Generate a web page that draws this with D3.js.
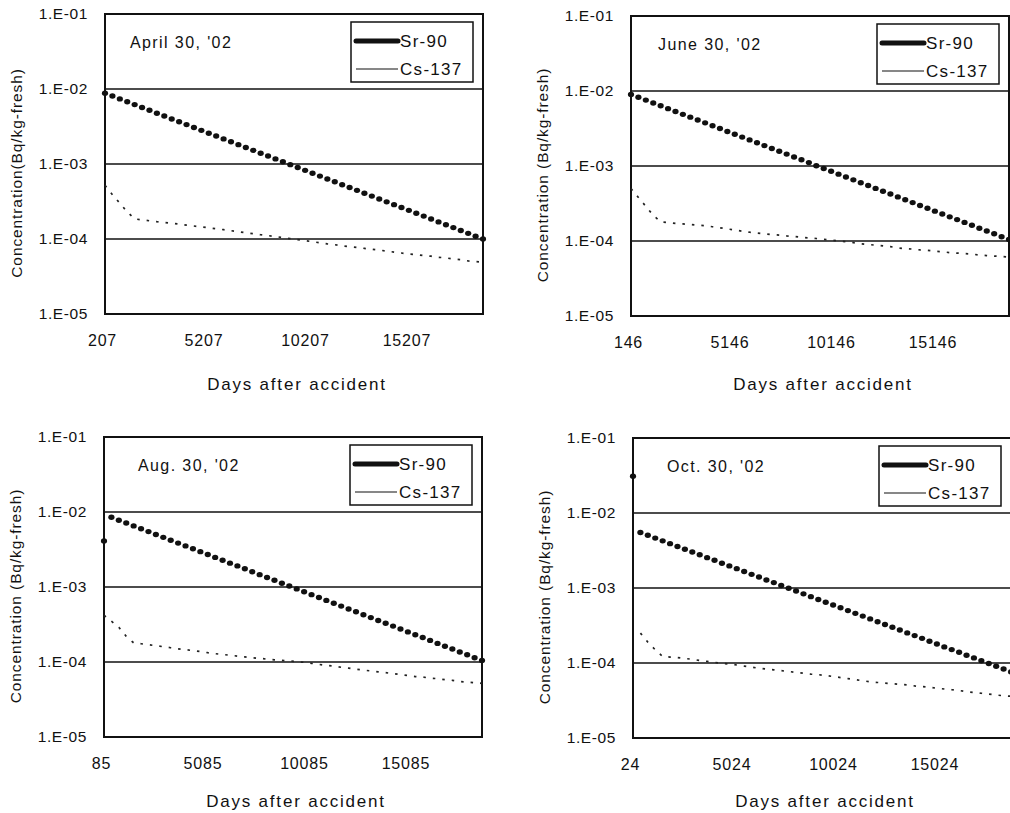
<!DOCTYPE html>
<html>
<head>
<meta charset="utf-8">
<script src="https://cdn.jsdelivr.net/npm/d3@7"></script>
<style>
  body { margin: 0; background: #fff; }
  svg text { font-family: "Liberation Sans", Arial, sans-serif; fill: #111; }
</style>
</head>
<body>
<svg id="chart" width="1010" height="813"></svg>
<script>
const panelWidth = 378,
panelHeight = 300,
dayStep = 365.25;

// dates of the four panels
const panelTitles = ["April 30, '02", "June 30, '02", "Aug. 30, '02", "Oct. 30, '02"]
const yTitles = ["Concentration(Bq/kg-fresh)", "Concentration (Bq/kg-fresh)", "Concentration (Bq/kg-fresh)", "Concentration (Bq/kg-fresh)"]
const xTitle = "Days after accident"
const seriesNames = ["Sr-90", "Cs-137"]

// tick labels
const yTickValues = [1e-5, 1e-4, 1e-3, 1e-2, 1e-1]
const yTickLabels = ["1.E-05", "1.E-04", "1.E-03", "1.E-02", "1.E-01"]
const xTickLabels = [
  ["207", "5207", "10207", "15207"],
  ["146", "5146", "10146", "15146"],
  ["85", "5085", "10085", "15085"],
  ["24", "5024", "10024", "15024"]
]

// Bq/kg-fresh, one value per year after first day
const srApril = [8.8e-3, 8.06e-3, 7.38e-3, 6.76e-3, 6.19e-3, 5.67e-3, 5.2e-3, 4.76e-3, 4.36e-3, 3.99e-3,
  3.66e-3, 3.35e-3, 3.07e-3, 2.81e-3, 2.57e-3, 2.36e-3, 2.16e-3, 1.98e-3, 1.81e-3, 1.66e-3,
  1.52e-3, 1.39e-3, 1.28e-3, 1.17e-3, 1.07e-3, 9.8e-4, 8.98e-4, 8.23e-4, 7.54e-4, 6.9e-4,
  6.32e-4, 5.79e-4, 5.3e-4, 4.86e-4, 4.45e-4, 4.08e-4, 3.73e-4, 3.42e-4, 3.13e-4, 2.87e-4,
  2.63e-4, 2.41e-4, 2.2e-4, 2.02e-4, 1.85e-4, 1.69e-4, 1.55e-4, 1.42e-4, 1.3e-4, 1.19e-4,
  1.09e-4, 1.0e-4]
const csApril = [5.2e-4, 3.9e-4, 3.0e-4, 2.3e-4, 1.85e-4, 1.8e-4, 1.75e-4, 1.7e-4, 1.66e-4, 1.62e-4,
  1.58e-4, 1.53e-4, 1.49e-4, 1.45e-4, 1.41e-4, 1.37e-4, 1.33e-4, 1.29e-4, 1.25e-4, 1.21e-4,
  1.18e-4, 1.14e-4, 1.11e-4, 1.08e-4, 1.04e-4, 1.01e-4, 9.8e-5, 9.5e-5, 9.2e-5, 8.9e-5,
  8.6e-5, 8.4e-5, 8.1e-5, 7.9e-5, 7.7e-5, 7.5e-5, 7.3e-5, 7.1e-5, 6.9e-5, 6.7e-5,
  6.5e-5, 6.3e-5, 6.2e-5, 6.0e-5, 5.9e-5, 5.7e-5, 5.6e-5, 5.4e-5, 5.3e-5, 5.1e-5,
  5.0e-5, 4.9e-5]

const srJune = [9.0e-3, 8.25e-3, 7.56e-3, 6.93e-3, 6.35e-3, 5.82e-3, 5.33e-3, 4.88e-3, 4.48e-3, 4.1e-3,
  3.76e-3, 3.44e-3, 3.16e-3, 2.89e-3, 2.65e-3, 2.43e-3, 2.23e-3, 2.04e-3, 1.87e-3, 1.71e-3,
  1.57e-3, 1.44e-3, 1.32e-3, 1.21e-3, 1.11e-3, 1.01e-3, 9.27e-4, 8.5e-4, 7.79e-4, 7.14e-4,
  6.54e-4, 5.99e-4, 5.49e-4, 5.03e-4, 4.61e-4, 4.23e-4, 3.87e-4, 3.55e-4, 3.25e-4, 2.98e-4,
  2.73e-4, 2.5e-4, 2.29e-4, 2.1e-4, 1.93e-4, 1.77e-4, 1.62e-4, 1.48e-4, 1.36e-4, 1.25e-4,
  1.14e-4, 1.05e-4]
const csJune = [5.0e-4, 3.8e-4, 2.9e-4, 2.2e-4, 1.8e-4, 1.76e-4, 1.72e-4, 1.69e-4, 1.66e-4, 1.63e-4,
  1.6e-4, 1.55e-4, 1.5e-4, 1.45e-4, 1.4e-4, 1.35e-4, 1.31e-4, 1.28e-4, 1.25e-4, 1.22e-4,
  1.2e-4, 1.17e-4, 1.15e-4, 1.12e-4, 1.1e-4, 1.08e-4, 1.05e-4, 1.03e-4, 1.0e-4, 9.8e-5,
  9.5e-5, 9.2e-5, 9.0e-5, 8.8e-5, 8.6e-5, 8.4e-5, 8.1e-5, 7.9e-5, 7.8e-5, 7.6e-5,
  7.5e-5, 7.3e-5, 7.2e-5, 7.0e-5, 6.9e-5, 6.8e-5, 6.7e-5, 6.5e-5, 6.4e-5, 6.3e-5,
  6.2e-5, 6.1e-5]

const srAug = [4.1e-3, 8.5e-3, 7.78e-3, 7.13e-3, 6.53e-3, 5.98e-3, 5.48e-3, 5.02e-3, 4.59e-3, 4.21e-3,
  3.85e-3, 3.53e-3, 3.23e-3, 2.96e-3, 2.71e-3, 2.48e-3, 2.27e-3, 2.08e-3, 1.91e-3, 1.75e-3,
  1.6e-3, 1.46e-3, 1.34e-3, 1.23e-3, 1.12e-3, 1.03e-3, 9.43e-4, 8.64e-4, 7.91e-4, 7.24e-4,
  6.63e-4, 6.08e-4, 5.56e-4, 5.1e-4, 4.67e-4, 4.27e-4, 3.91e-4, 3.58e-4, 3.28e-4, 3.01e-4,
  2.75e-4, 2.52e-4, 2.31e-4, 2.12e-4, 1.94e-4, 1.77e-4, 1.62e-4, 1.49e-4, 1.36e-4, 1.25e-4,
  1.14e-4, 1.05e-4]
const csAug = [4.2e-4, 3.5e-4, 2.9e-4, 2.2e-4, 1.8e-4, 1.75e-4, 1.7e-4, 1.65e-4, 1.6e-4, 1.55e-4,
  1.5e-4, 1.46e-4, 1.42e-4, 1.38e-4, 1.33e-4, 1.29e-4, 1.26e-4, 1.23e-4, 1.2e-4, 1.17e-4,
  1.14e-4, 1.12e-4, 1.09e-4, 1.07e-4, 1.05e-4, 1.03e-4, 1.01e-4, 9.9e-5, 9.6e-5, 9.3e-5,
  9.0e-5, 8.8e-5, 8.5e-5, 8.3e-5, 8.0e-5, 7.8e-5, 7.6e-5, 7.4e-5, 7.2e-5, 7.0e-5,
  6.8e-5, 6.6e-5, 6.4e-5, 6.3e-5, 6.1e-5, 6.0e-5, 5.8e-5, 5.7e-5, 5.5e-5, 5.4e-5,
  5.3e-5, 5.2e-5]

const srOct = [3.1e-2, 5.5e-3, 5.05e-3, 4.63e-3, 4.25e-3, 3.9e-3, 3.58e-3, 3.29e-3, 3.02e-3, 2.77e-3,
  2.54e-3, 2.34e-3, 2.14e-3, 1.97e-3, 1.81e-3, 1.66e-3, 1.52e-3, 1.4e-3, 1.28e-3, 1.18e-3,
  1.08e-3, 9.92e-4, 9.11e-4, 8.36e-4, 7.67e-4, 7.04e-4, 6.47e-4, 5.94e-4, 5.45e-4, 5.0e-4,
  4.59e-4, 4.22e-4, 3.87e-4, 3.55e-4, 3.26e-4, 2.99e-4, 2.75e-4, 2.52e-4, 2.32e-4, 2.13e-4,
  1.95e-4, 1.79e-4, 1.64e-4, 1.51e-4, 1.39e-4, 1.27e-4, 1.17e-4, 1.07e-4, 9.85e-5, 9.04e-5,
  8.3e-5, 7.6e-5]
const csOct = [null, 2.5e-4, 1.9e-4, 1.5e-4, 1.22e-4, 1.2e-4, 1.18e-4, 1.15e-4, 1.12e-4, 1.08e-4,
  1.05e-4, 1.02e-4, 9.9e-5, 9.7e-5, 9.4e-5, 9.1e-5, 8.8e-5, 8.5e-5, 8.3e-5, 8.1e-5,
  7.9e-5, 7.7e-5, 7.5e-5, 7.3e-5, 7.1e-5, 7.0e-5, 6.8e-5, 6.6e-5, 6.4e-5, 6.2e-5,
  6.0e-5, 5.8e-5, 5.6e-5, 5.5e-5, 5.4e-5, 5.3e-5, 5.2e-5, 5.1e-5, 4.95e-5, 4.85e-5,
  4.75e-5, 4.6e-5, 4.5e-5, 4.4e-5, 4.3e-5, 4.15e-5, 4.05e-5, 3.95e-5, 3.85e-5, 3.75e-5,
  3.65e-5, 3.6e-5]

const srSeries = [srApril, srJune, srAug, srOct]
const csSeries = [csApril, csJune, csAug, csOct]

// where each panel's plot area sits
const panelPos = [
  {left: 105, top: 14, titleDx: 25, xTitleDy: 76},
  {left: 631, top: 16, titleDx: 27, xTitleDy: 74},
  {left: 104, top: 437, titleDx: 34, xTitleDy: 70},
  {left: 633, top: 438, titleDx: 34, xTitleDy: 69}
]

const svg = d3.select("#chart")

function buildPanel(p){
  var pos = panelPos[p],
  ticks = xTickLabels[p].map(function(s){ return +s }),
  first = ticks[0],
  nPts = srSeries[p].length

  var x = d3.scaleLinear()
    .domain([first, first + (nPts - 1) * dayStep])
    .range([0, panelWidth])

  var y = d3.scaleLog()
    .domain([1e-5, 1e-1])
    .range([panelHeight, 0])

  var g = svg.append("g")
    .attr("transform", "translate(" + pos.left + "," + pos.top + ")")

  // decade gridlines
  g.selectAll(".grid")
    .data(yTickValues.slice(1, 4))
    .join("line")
    .attr("class", "grid")
    .attr("x1", 0).attr("x2", panelWidth)
    .attr("y1", d => y(d)).attr("y2", d => y(d))
    .attr("stroke", "#111")
    .attr("stroke-width", 1.5)

  // y axis
  var yAxis = g.append("g")
    .call(d3.axisLeft(y)
      .tickValues(yTickValues)
      .tickFormat((d, i) => yTickLabels[i])
      .tickSize(0)
      .tickPadding(17))
  yAxis.select(".domain").remove()
  yAxis.selectAll("text")
    .style("font-family", "'Liberation Sans', Arial, sans-serif")
    .style("font-size", "15.5px")
    .style("letter-spacing", "0.6px")
    .attr("fill", "#111")

  // x axis
  var xAxis = g.append("g")
    .attr("transform", "translate(0," + panelHeight + ")")
    .call(d3.axisBottom(x)
      .tickValues(ticks)
      .tickFormat((d, i) => xTickLabels[p][i])
      .tickSize(0)
      .tickPadding(21))
  xAxis.select(".domain").remove()
  xAxis.selectAll("text")
    .attr("dx", -3)
    .style("font-family", "'Liberation Sans', Arial, sans-serif")
    .style("font-size", "16px")
    .style("letter-spacing", "0.8px")
    .attr("fill", "#111")

  // frame
  g.append("rect")
    .attr("width", panelWidth)
    .attr("height", panelHeight)
    .attr("fill", "none")
    .attr("stroke", "#111")
    .attr("stroke-width", 2)

  // Cs-137 : thin line, comes out dotted
  var line = d3.line()
    .defined(d => d != null)
    .x((d, i) => x(first + i * dayStep))
    .y(d => y(d))

  g.append("path")
    .datum(csSeries[p])
    .attr("d", line)
    .attr("fill", "none")
    .attr("stroke", "#222")
    .attr("stroke-width", 1.7)
    .attr("stroke-dasharray", "2.5,7")

  // Sr-90 : thick dotted markers
  g.selectAll(".sr")
    .data(srSeries[p])
    .join("ellipse")
    .attr("class", "sr")
    .attr("cx", (d, i) => x(first + i * dayStep))
    .attr("cy", d => y(d))
    .attr("rx", 3.1)
    .attr("ry", 2.7)
    .attr("fill", "#111")

  // date label
  g.append("text")
    .attr("x", pos.titleDx)
    .attr("y", 34)
    .style("font-size", "16px")
    .style("letter-spacing", "1.4px")
    .text(panelTitles[p])

  // legend
  var lg = g.append("g")
    .attr("transform", "translate(" + (panelWidth - 132) + ",8)")
  lg.append("rect")
    .attr("width", 122).attr("height", 60)
    .attr("fill", "#fff")
    .attr("stroke", "#111")
    .attr("stroke-width", 1.5)
  seriesNames.forEach(function(name, i){
    var yy = 19 + i * 28
    lg.append("line")
      .attr("x1", 5).attr("x2", 47)
      .attr("y1", yy).attr("y2", yy)
      .attr("stroke", "#111")
      .attr("stroke-width", i == 0 ? 5 : 1.2)
      .attr("stroke-linecap", i == 0 ? "round" : "butt")
    lg.append("text")
      .attr("x", 49).attr("y", yy + 6)
      .style("font-size", "17px")
      .style("letter-spacing", "1.3px")
      .text(name)
  })

  // axis titles
  g.append("text")
    .attr("transform", "translate(-88," + (panelHeight / 2 + 9) + ") rotate(-90)")
    .attr("text-anchor", "middle")
    .attr("dy", "0.35em")
    .style("font-size", "15.5px")
    .style("letter-spacing", "0.9px")
    .text(yTitles[p])

  g.append("text")
    .attr("x", panelWidth / 2 + 3)
    .attr("y", panelHeight + pos.xTitleDy)
    .attr("text-anchor", "middle")
    .style("font-size", "17px")
    .style("letter-spacing", "1.8px")
    .text(xTitle)
}

for (var p = 0; p < 4; p++) buildPanel(p)
</script>
</body>
</html>
